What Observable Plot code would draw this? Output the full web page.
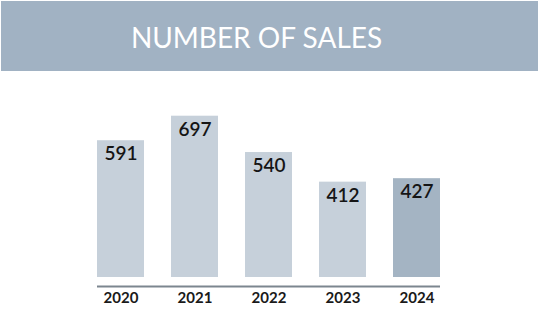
<!DOCTYPE html>
<html>
<head>
<meta charset="utf-8">
<script src="https://cdn.jsdelivr.net/npm/d3@7"></script>
<script src="https://cdn.jsdelivr.net/npm/@observablehq/plot@0.6"></script>
<style>
  html, body { margin: 0; padding: 0; background: #ffffff; }
  #wrap { width: 542px; height: 333px; position: relative; overflow: hidden; }
  #title {
    position: absolute; left: 1px; top: 1px; width: 537px; height: 70px;
    background: #a1b2c3; color: #ffffff;
    font-family: Lato, "Open Sans", sans-serif; font-size: 28px; font-weight: 400;
    display: flex; align-items: center; justify-content: center;
    box-sizing: border-box; padding-right: 26px; padding-top: 2px;
  }
  #chart { position: absolute; left: 0; top: 71px; }
</style>
</head>
<body>
<div id="wrap">
  <div id="title">NUMBER OF SALES</div>
  <div id="chart"></div>
</div>
<script>
const years = ["2020", "2021", "2022", "2023", "2024"];
const sales = [591, 697, 540, 412, 427];
const highlight = [false, false, false, false, true];

const data = years.map((y, i) => ({year: y, value: sales[i], hl: highlight[i]}));

const chart = Plot.plot({
  width: 542,
  height: 262,
  marginLeft: 97,
  marginRight: 102,
  marginTop: 44,
  marginBottom: 56,
  style: {fontFamily: "Lato, 'Open Sans', sans-serif", background: "transparent"},
  x: {domain: years, paddingInner: 0.365, paddingOuter: 0, label: null},
  y: {domain: [0, 700], axis: null},
  marks: [
    Plot.barY(data, {x: "year", y: "value", fill: d => d.hl ? "#a4b4c3" : "#c6d0da"}),
    Plot.ruleY([0], {dy: 9, stroke: "#7c868f", strokeWidth: 2}),
    Plot.text(data, {x: "year", y: "value", text: d => String(d.value), lineAnchor: "top", dy: 6,
      fontSize: 19, fontWeight: 600, fill: "#151515"}),
    Plot.axisX({tickSize: 0, tickPadding: 15, fontSize: 15, fontWeight: 700, fill: "#1a1a1a", label: null})
  ]
});
document.getElementById("chart").appendChild(chart);
</script>
</body>
</html>
